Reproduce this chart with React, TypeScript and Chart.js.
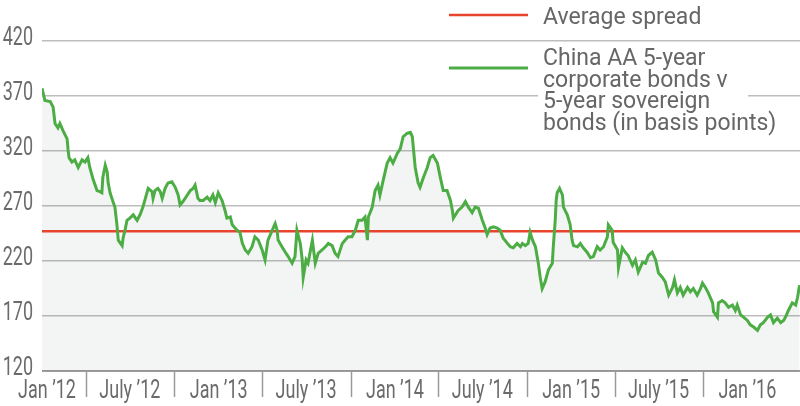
import React, { useEffect, useRef } from 'react';
import { Chart, registerables } from 'chart.js';

Chart.register(...registerables);

// Days since 1 Jan 2012 for each observation
const obsDays = [
  0, 6, 17, 23, 27, 33, 37, 44, 52, 54,
  56, 62, 68, 75, 83, 89, 95, 99, 106, 114,
  120, 124, 126, 131, 135, 137, 141, 147, 151, 155,
  158, 166, 168, 172, 176, 182, 189, 197, 203, 209,
  218, 220, 228, 230, 234, 240, 245, 249, 255, 261,
  269, 276, 282, 286, 292, 301, 307, 313, 317, 323,
  327, 334, 342, 348, 354, 359, 365, 373, 379, 383,
  390, 394, 404, 410, 415, 421, 427, 435, 441, 448,
  456, 462, 468, 477, 483, 487, 489, 497, 504, 510,
  518, 524, 528, 535, 539, 541, 547, 551, 560, 566,
  572, 580, 587, 593, 601, 607, 613, 622, 628, 634,
  642, 649, 655, 663, 669, 674, 676, 684, 690, 696,
  700, 707, 715, 721, 727, 736, 742, 748, 756, 763,
  767, 773, 779, 783, 790, 798, 804, 810, 819, 825,
  831, 839, 846, 850, 852, 862, 870, 877, 883, 891,
  897, 904, 912, 918, 922, 928, 935, 943, 949, 955,
  964, 970, 976, 984, 991, 995, 1001, 1007, 1011, 1016,
  1022, 1028, 1032, 1036, 1042, 1049, 1057, 1059, 1063, 1065,
  1067, 1072, 1078, 1080, 1088, 1094, 1098, 1101, 1109, 1115,
  1121, 1129, 1136, 1142, 1150, 1156, 1163, 1171, 1173, 1181,
  1183, 1192, 1194, 1202, 1208, 1214, 1223, 1229, 1235, 1244,
  1250, 1256, 1264, 1271, 1277, 1285, 1291, 1298, 1306, 1310,
  1316, 1322, 1328, 1337, 1343, 1349, 1357, 1364, 1368, 1374,
  1380, 1389, 1391, 1399, 1401, 1409, 1415, 1422, 1430, 1436,
  1440, 1447, 1453, 1461, 1467, 1474, 1482, 1488, 1494, 1503,
  1509, 1515, 1523, 1530, 1536, 1540, 1546, 1554, 1561, 1565,
  1569,
];

// China AA 5-year corporate v sovereign spread, basis points
const spreadBp = [
  377, 366, 365, 360, 345, 341, 345, 338, 331, 321,
  314, 310, 312, 305, 312, 310, 314, 305, 294, 284,
  283, 282, 296, 307, 301, 291, 282, 274, 269, 254,
  239, 234, 241, 248, 257, 259, 262, 257, 262, 269,
  283, 286, 283, 277, 284, 286, 283, 277, 286, 291,
  292, 287, 280, 271, 274, 280, 284, 286, 289, 277,
  275, 275, 278, 275, 280, 273, 282, 275, 266, 259,
  260, 253, 248, 246, 236, 230, 227, 233, 242, 239,
  230, 221, 239, 248, 254, 248, 239, 233, 228, 224,
  218, 224, 248, 236, 221, 205, 221, 218, 239, 218,
  227, 230, 233, 236, 234, 227, 224, 236, 239, 242,
  242, 248, 257, 257, 260, 239, 260, 269, 284, 289,
  280, 294, 309, 314, 309, 318, 322, 333, 336, 337,
  333, 305, 291, 287, 296, 305, 314, 316, 309, 296,
  284, 284, 275, 266, 259, 266, 269, 274, 269, 264,
  269, 268, 257, 250, 244, 250, 251, 250, 248, 241,
  236, 233, 232, 236, 233, 236, 234, 236, 246, 239,
  233, 218, 205, 195, 201, 212, 218, 233, 257, 275,
  282, 286, 280, 269, 262, 253, 239, 234, 233, 236,
  232, 228, 223, 224, 233, 230, 233, 242, 253, 248,
  237, 230, 214, 232, 228, 225, 216, 221, 210, 219,
  218, 225, 228, 221, 209, 205, 201, 189, 196, 203,
  191, 196, 189, 196, 192, 195, 189, 195, 200, 196,
  191, 182, 174, 169, 182, 184, 182, 178, 180, 175,
  180, 171, 169, 166, 162, 160, 157, 162, 164, 169,
  171, 164, 168, 164, 166, 169, 175, 182, 180, 187,
  198,
];

const averageDays = [0, 1570];
const averageBp = [247, 247];

const xLabelDays = [0, 182, 366, 547, 731, 912, 1096, 1277, 1461];
const xLabels = ['Jan ’12', 'July ’12', 'Jan ’13', 'July ’13', 'Jan ’14', 'July ’14', 'Jan ’15', 'July ’15', 'Jan ’16'];
const separatorDays = [91, 274, 456, 639, 821, 1004, 1186, 1369];
const yTickValues = [120, 170, 220, 270, 320, 370, 420];

const legendAverage = 'Average spread';
const legendSeries = ['China AA 5-year', 'corporate bonds v', '5-year sovereign', 'bonds (in basis points)'];

const RED = '#e8432c';
const GREEN = '#4cad45';
const TICK_COLOR = '#6b6b6b';
const LEGEND_FONT = 'Roboto, sans-serif';

export default function App() {
  const canvasRef = useRef<HTMLCanvasElement | null>(null);

  useEffect(() => {
    const canvas = canvasRef.current;
    if (!canvas) return;

    // Axis tick labels in a condensed face (drawn with horizontal compression)
    const tickLabelPlugin = {
      id: 'condensedTickLabels',
      afterDraw(chart: any) {
        const { ctx, scales } = chart;
        const x = scales.x;
        const y = scales.y;
        ctx.save();
        ctx.fillStyle = TICK_COLOR;
        ctx.font = '25px Roboto, sans-serif';
        ctx.textBaseline = 'middle';
        yTickValues.forEach((v) => {
          const py = y.getPixelForValue(v);
          ctx.save();
          ctx.translate(33, py - 2);
          ctx.scale(0.72, 1);
          ctx.textAlign = 'right';
          ctx.fillText(String(v), 0, 0);
          ctx.restore();
        });
        xLabelDays.forEach((d, i) => {
          const px = x.getPixelForValue(d);
          ctx.save();
          ctx.translate(i === 0 ? px + 5 : px, 392);
          ctx.scale(0.72, 1);
          ctx.textAlign = 'center';
          ctx.fillText(xLabels[i], 0, 0);
          ctx.restore();
        });
        ctx.restore();
      },
    };

    const separatorPlugin = {
      id: 'separators',
      afterDraw(chart: any) {
        const { ctx, chartArea, scales } = chart;
        const x = scales.x;
        ctx.save();
        ctx.strokeStyle = '#9a9a9a';
        ctx.lineWidth = 1.5;
        separatorDays.forEach((d) => {
          const px = Math.round(x.getPixelForValue(d)) + 0.5;
          ctx.beginPath();
          ctx.moveTo(px, chartArea.bottom);
          ctx.lineTo(px, chartArea.bottom + 26);
          ctx.stroke();
        });
        ctx.restore();
      },
    };

    const legendPlugin = {
      id: 'customLegend',
      afterDraw(chart: any) {
        const { ctx } = chart;
        ctx.save();
        ctx.strokeStyle = RED;
        ctx.lineWidth = 2.5;
        ctx.beginPath();
        ctx.moveTo(449, 15);
        ctx.lineTo(528, 15);
        ctx.stroke();
        ctx.strokeStyle = GREEN;
        ctx.lineWidth = 3;
        ctx.beginPath();
        ctx.moveTo(449, 68);
        ctx.lineTo(528, 68);
        ctx.stroke();
        ctx.fillStyle = '#ffffff';
        ctx.fillRect(538, 90, 210, 12);
        ctx.fillStyle = '#666666';
        ctx.font = `23px ${LEGEND_FONT}`;
        ctx.textAlign = 'left';
        ctx.textBaseline = 'alphabetic';
        ctx.fillText(legendAverage, 543, 24);
        legendSeries.forEach((line, i) => {
          ctx.fillText(line, 543, 65 + i * 21.7);
        });
        ctx.restore();
      },
    };

    const chart = new Chart(canvas, {
      type: 'line',
      data: {
        datasets: [
          {
            label: legendAverage,
            data: averageDays.map((d, i) => ({ x: d, y: averageBp[i] })),
            borderColor: RED,
            borderWidth: 2.5,
            pointRadius: 0,
            fill: false,
            order: 2,
          },
          {
            label: legendSeries.join(' '),
            data: obsDays.map((d, i) => ({ x: d, y: spreadBp[i] })),
            borderColor: GREEN,
            borderWidth: 3,
            pointRadius: 0,
            tension: 0,
            fill: 'start',
            backgroundColor: 'rgba(20,40,40,0.05)',
            order: 1,
          },
        ],
      },
      options: {
        animation: false,
        responsive: true,
        maintainAspectRatio: false,
        layout: { padding: { top: 41, right: 0, left: 0, bottom: 0 } },
        plugins: {
          legend: { display: false },
          tooltip: { enabled: false },
          filler: { drawTime: 'beforeDatasetsDraw' },
        },
        scales: {
          x: {
            type: 'linear',
            min: 0,
            max: 1570,
            grid: { display: false },
            border: { display: false },
            afterBuildTicks: (scale: any) => {
              scale.ticks = xLabelDays.map((v) => ({ value: v }));
            },
            afterFit: (scale: any) => {
              scale.height = 35;
            },
            ticks: { display: false, autoSkip: false, maxRotation: 0 },
          },
          y: {
            type: 'linear',
            min: 120,
            max: 420,
            grid: {
              color: (c: any) => (c.tick && c.tick.value === 120 ? '#9c9c9c' : '#bdbdbd'),
              lineWidth: (c: any) => (c.tick && c.tick.value === 120 ? 2 : 1.5),
              drawTicks: false,
            },
            border: { display: false },
            afterBuildTicks: (scale: any) => {
              scale.ticks = yTickValues.map((v) => ({ value: v }));
            },
            afterFit: (scale: any) => {
              scale.width = 42;
            },
            ticks: { display: false },
          },
        },
      },
      plugins: [separatorPlugin, tickLabelPlugin, legendPlugin],
    });

    return () => chart.destroy();
  }, []);

  return (
    <div style={{ position: 'absolute', left: 0, top: 0, width: 800, height: 406, background: '#ffffff' }}>
      <canvas ref={canvasRef} />
    </div>
  );
}
